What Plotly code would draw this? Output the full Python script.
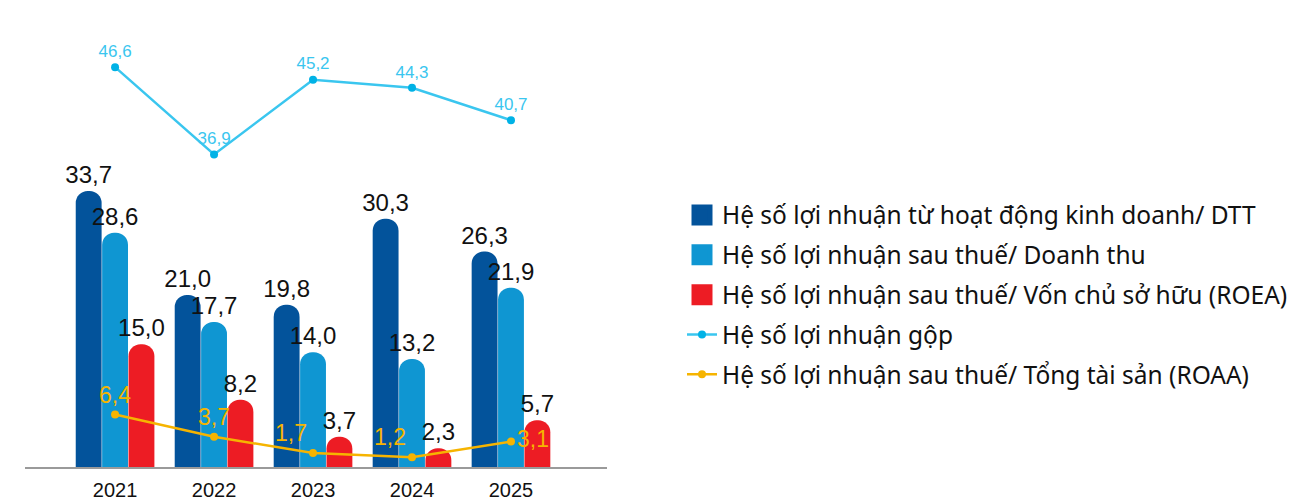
import plotly.graph_objects as go

years = ["2021", "2022", "2023", "2024", "2025"]
op_margin = [33.7, 21.0, 19.8, 30.3, 26.3]
net_margin = [28.6, 17.7, 14.0, 13.2, 21.9]
roea = [15.0, 8.2, 3.7, 2.3, 5.7]
gross_margin = [46.6, 36.9, 45.2, 44.3, 40.7]
roaa = [6.4, 3.7, 1.7, 1.2, 3.1]

names = [
    "Hệ số lợi nhuận từ hoạt động kinh doanh/ DTT",
    "Hệ số lợi nhuận sau thuế/ Doanh thu",
    "Hệ số lợi nhuận sau thuế/ Vốn chủ sở hữu (ROEA)",
    "Hệ số lợi nhuận gộp",
    "Hệ số lợi nhuận sau thuế/ Tổng tài sản (ROAA)",
]

NUM_FONT = "Liberation Sans, Arial, sans-serif"
bar_colors = ["#03539b", "#0f96d2", "#ed1c24"]

# page has an 8px body margin, figure sized to fit
W, H = 1308, 496
ML, MR, MT, MB = 17, 10, 0, 37
plot_w = W - ML - MR
plot_h = H - MT - MB

fig = go.Figure()

for vals, name, color in zip([op_margin, net_margin, roea], names[:3], bar_colors):
    fig.add_trace(go.Bar(
        x=years, y=vals, name=name, legendgroup=name, showlegend=False,
        marker=dict(color=color, cornerradius="50%", line=dict(width=0)),
        texttemplate="%{y:.1f}", textposition="outside",
        textfont=dict(family=NUM_FONT, size=24, color="#111111"),
        constraintext="none", cliponaxis=False,
    ))

# legend entries for the bars (big square swatches)
for name, color in zip(names[:3], bar_colors):
    fig.add_trace(go.Scatter(
        x=[None], y=[None], name=name, legendgroup=name, mode="markers",
        marker=dict(symbol="square", size=16, color=color,
                    line=dict(color=color, width=5)),
    ))

fig.add_trace(go.Scatter(
    x=years, y=gross_margin, name=names[3], legendgroup=names[3],
    mode="lines+markers+text", yaxis="y2",
    line=dict(color="#3ac6ef", width=2.5),
    marker=dict(color="#00b2e6", size=8),
    texttemplate="%{y:.1f}", textposition="top center",
    textfont=dict(family=NUM_FONT, size=17, color="#3ac6ef"),
    cliponaxis=False,
))

fig.add_trace(go.Scatter(
    x=years, y=roaa, name=names[4], legendgroup=names[4],
    mode="lines+markers+text",
    line=dict(color="#f6b400", width=2.5),
    marker=dict(color="#f6b400", size=8),
    texttemplate="%{y:.1f}",
    textposition=["top center", "top center", "top left", "top left", "middle right"],
    textfont=dict(family=NUM_FONT, size=23, color="#f6b400"),
    cliponaxis=False,
))

fig.update_layout(
    width=W, height=H,
    margin=dict(l=ML, r=MR, t=MT, b=MB, autoexpand=False),
    paper_bgcolor="white", plot_bgcolor="white",
    separators=",.",
    barmode="group", bargap=0.2, bargroupgap=0.02,
    showlegend=True,
    legend=dict(
        x=(674 - ML) / plot_w, y=1 - 287 / plot_h, xanchor="left", yanchor="middle",
        font=dict(family="Noto Sans, sans-serif", size=24.5, color="#111111"),
        tracegroupgap=5, traceorder="grouped",
        bgcolor="rgba(0,0,0,0)",
    ),
    xaxis=dict(
        domain=[0, 582 / plot_w],
        range=[-0.91, 4.97],
        automargin=False,
        showline=True, linecolor="#9a9a9a", linewidth=2,
        showgrid=False, ticks="", ticklabelstandoff=4,
        tickfont=dict(family=NUM_FONT, size=20, color="#111111"),
    ),
    yaxis=dict(
        range=[0, plot_h / 8.19], visible=False, showgrid=False, zeroline=False,
    ),
    yaxis2=dict(
        range=[2.17, 53.17], overlaying="y", visible=False,
        showgrid=False, zeroline=False,
    ),
)

fig.write_html("out.html")
